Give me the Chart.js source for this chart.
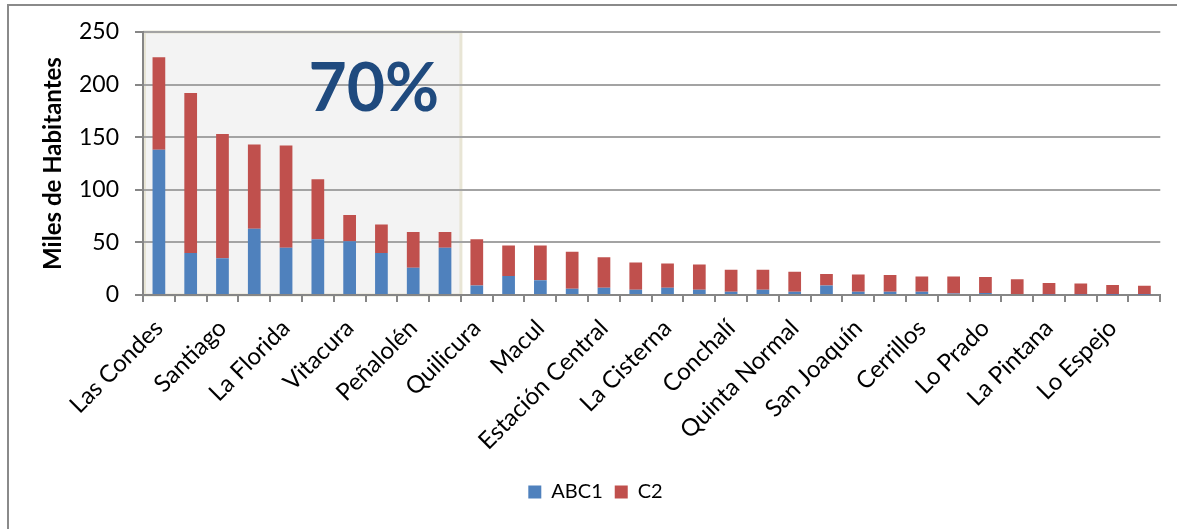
<!DOCTYPE html>
<html>
<head>
<meta charset="utf-8">
<script src="https://cdn.jsdelivr.net/npm/chart.js@4/dist/chart.umd.min.js"></script>
<style>
html,body{margin:0;padding:0;background:#fff;overflow:hidden;}
#wrap{position:absolute;left:0;top:0;width:1177px;height:529px;}
#frame{position:absolute;left:7px;top:4px;width:1200px;height:600px;border:2px solid #8a8a8a;box-sizing:border-box;}
#c{position:absolute;left:0;top:0;}
</style>
</head>
<body>
<div id="wrap">
  <div id="frame"></div>
  <canvas id="c" width="1177" height="529"></canvas>
</div>
<script>
// ---- Data ----
const categories = [
  "Las Condes","Maipú","Santiago","Ñuñoa","La Florida","Providencia","Vitacura","Puente Alto",
  "Peñalolén","La Reina","Quilicura","Lo Barnechea","Macul","San Miguel","Estación Central","Pudahuel",
  "La Cisterna","Recoleta","Conchalí","Independencia","Quinta Normal","Huechuraba","San Joaquín","El Bosque",
  "Cerrillos","San Bernardo","Lo Prado","Renca","La Pintana","Cerro Navia","Lo Espejo","San Ramón"
];
const abc1 = [138,40,35,63,45,53,51,40,26,45,9,18,14,6,7,5,7,5,3,5,3,9,3,3,3,1.5,2,1,0.5,0.5,0.3,0.3];
const c2   = [88,152,118,80,97,57,25,27,34,15,44,29,33,35,29,26,23,24,21,19,19,11,16.5,16,14.5,16,15,14,11,10.5,9.2,8.4];
const yTicks = [0,50,100,150,200,250];
const seriesNames = ["ABC1","C2"];
const highlightCount = 10;
const highlightText = "70%";

const FONT = "Lato, 'Open Sans', sans-serif";

const highlightPlugin = {
  id: 'highlight',
  beforeDraw(chart) {
    const {ctx, scales:{x, y}} = chart;
    const left = chart.chartArea.left;
    const right = (x.getPixelForValue(highlightCount-1) + x.getPixelForValue(highlightCount)) / 2;
    const top = y.getPixelForValue(yTicks[yTicks.length-1]);
    const bottom = y.getPixelForValue(0);
    ctx.save();
    ctx.fillStyle = '#f3f3f3';
    ctx.fillRect(left, top, right-left, bottom-top);
    ctx.strokeStyle = '#e8e5d5';
    ctx.lineWidth = 3;
    ctx.strokeRect(left+1.5, top, right-left-1.5, bottom-top);
    ctx.restore();
  },
  afterDatasetsDraw(chart) {
    const {ctx, scales:{x, y}} = chart;
    const left = chart.chartArea.left;
    const right = (x.getPixelForValue(highlightCount-1) + x.getPixelForValue(highlightCount)) / 2;
    const cx = left + (right-left)*0.726;
    const cy = y.getPixelForValue(195);
    ctx.save();
    ctx.fillStyle = '#1f4a7e';
    ctx.font = "bold 66px " + FONT;
    ctx.textAlign = 'center';
    ctx.textBaseline = 'middle';
    ctx.fillText(highlightText, cx, cy);
    ctx.restore();
  }
};

new Chart(document.getElementById('c'), {
  type: 'bar',
  data: {
    labels: categories,
    datasets: [
      {label: seriesNames[0], data: abc1, backgroundColor: '#4f81bd', barPercentage: 0.4, categoryPercentage: 1.0},
      {label: seriesNames[1], data: c2, backgroundColor: '#c0504d', barPercentage: 0.4, categoryPercentage: 1.0}
    ]
  },
  options: {
    responsive: false,
    animation: false,
    devicePixelRatio: 1,
    layout: {padding: {left: 30, top: 32, right: 16, bottom: 17}},
    plugins: {
      legend: {
        position: 'bottom',
        labels: {boxWidth: 13, boxHeight: 13, padding: 12, color: '#000', font: {family: FONT, size: 20}}
      },
      tooltip: {enabled: false}
    },
    scales: {
      x: {
        stacked: true,
        afterFit: (s) => { s.height = 175; },
        grid: {display: true, drawOnChartArea: false, drawTicks: true, tickLength: 7, color: '#868686', lineWidth: 2},
        border: {display: true, color: '#868686', width: 2},
        ticks: {
          autoSkip: false, maxRotation: 45, minRotation: 45, padding: 12,
          color: '#000', font: {family: FONT, size: 24},
          callback: (v, i) => (i % 2 === 0 ? categories[i] : '')
        }
      },
      y: {
        stacked: true,
        min: 0, max: 250,
        afterFit: (s) => { s.width = 113; },
        afterBuildTicks: (s) => { s.ticks = yTicks.map(v => ({value: v})); },
        grid: {color: '#a3a3a3', lineWidth: 2, tickLength: 8, tickColor: '#868686'},
        border: {display: true, color: '#868686', width: 2},
        ticks: {color: '#000', padding: 16, font: {family: FONT, size: 23}},
        title: {display: true, text: 'Miles de Habitantes', color: '#000', padding: {top: 9, bottom: 0}, font: {family: FONT, size: 24, weight: 'bold'}}
      }
    }
  },
  plugins: [highlightPlugin]
});
</script>
</body>
</html>
